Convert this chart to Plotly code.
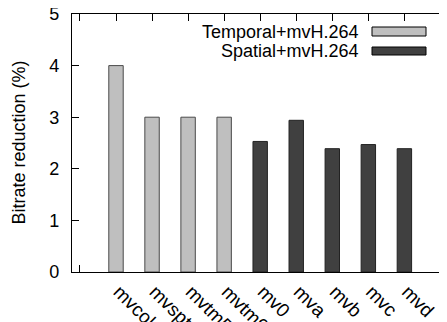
import plotly.graph_objects as go

categories = ["mvcol", "mvspt", "mvtm5", "mvtm9", "mv0", "mva", "mvb", "mvc", "mvd"]
temporal_cats = ["mvcol", "mvspt", "mvtm5", "mvtm9"]
temporal_vals = [4.0, 3.0, 3.0, 3.0]
spatial_cats = ["mv0", "mva", "mvb", "mvc", "mvd"]
spatial_vals = [2.53, 2.94, 2.39, 2.47, 2.39]
series_names = ["Temporal+mvH.264", "Spatial+mvH.264"]
y_ticks = [0, 1, 2, 3, 4, 5]

FONT = "Liberation Sans, Arial, sans-serif"
FS = 18
LIGHT = "#bfbfbf"
DARK = "#404040"

# the page body adds an 8px margin, so the figure is sized to fill the rest of the window
OFF = 8
W, H = 447 - OFF, 322 - OFF
ML, MR, MT, MB = 72 - OFF, 0, 14 - OFF, 50
PW, PH = W - ML - MR, H - MT - MB

def px(x):  # reference-pixel x -> paper
    return (x - OFF - ML) / PW

def py(y):  # reference-pixel y -> paper
    return (H - MB - (y - OFF)) / PH

xrange = [-1.2205, 9.182]
frame_ticks = list(range(-1, len(categories) + 1))

fig = go.Figure()
fig.add_trace(go.Bar(x=temporal_cats, y=temporal_vals, width=0.4, name=series_names[0],
                     marker=dict(color=LIGHT, line=dict(color="#4a4a4a", width=1)),
                     showlegend=False))
fig.add_trace(go.Bar(x=spatial_cats, y=spatial_vals, width=0.4, name=series_names[1],
                     marker=dict(color=DARK, line=dict(color="#222222", width=1)),
                     showlegend=False))
# transparent helper traces that activate the overlay axes used for the gnuplot-style frame
for ax in ("x2", "x3"):
    fig.add_trace(go.Scatter(x=[frame_ticks[0]], y=[0], xaxis=ax, yaxis="y", mode="markers",
                             marker=dict(opacity=0, size=1), showlegend=False, hoverinfo="skip"))

fig.update_layout(
    width=W, height=H,
    margin=dict(l=ML, r=MR, t=MT, b=MB, autoexpand=False),
    paper_bgcolor="white", plot_bgcolor="white",
    font=dict(family=FONT, size=FS, color="black"),
    barmode="overlay",
    xaxis=dict(type="category", categoryorder="array", categoryarray=categories,
               range=xrange, showline=True, linecolor="black", linewidth=1.3,
               ticks="", showgrid=False, zeroline=False, automargin=False,
               tickangle=45, tickfont=dict(size=19), ticklabelstandoff=0,
               ticklabelshift=3, ticklabeloverflow="allow"),
    xaxis2=dict(overlaying="x", anchor="y", side="top", range=xrange, tickmode="array",
                tickvals=frame_ticks, showticklabels=False, automargin=False,
                ticks="inside", ticklen=7, tickwidth=1.3, tickcolor="black",
                showline=True, linecolor="black", linewidth=1.3,
                showgrid=False, zeroline=False),
    xaxis3=dict(overlaying="x", anchor="y", side="bottom", range=xrange, tickmode="array",
                tickvals=[frame_ticks[0], frame_ticks[-1]], showticklabels=False,
                automargin=False, ticks="inside", ticklen=7, tickwidth=1.3,
                tickcolor="black", showline=False, showgrid=False, zeroline=False),
    yaxis=dict(range=[0, 5], tickvals=y_ticks, ticks="inside", ticklen=7, tickwidth=1.3,
               tickcolor="black", showline=True, linecolor="black", linewidth=1.3,
               mirror="ticks", showgrid=False, zeroline=False, ticklabelstandoff=8,
               ticklabeloverflow="allow", automargin=False, tickfont=dict(size=FS)),
)

# y-axis title
fig.add_annotation(text="Bitrate reduction (%)", xref="paper", yref="paper",
                   x=px(18.5), y=0.5, textangle=-90, showarrow=False,
                   xanchor="center", yanchor="middle", font=dict(size=FS))

# gnuplot-style legend: label on the left, wide key box on the right
legend_rows = [(series_names[0], LIGHT, 27, 36, 31.5), (series_names[1], DARK, 47, 55, 51)]
for name, col, y0, y1, yc in legend_rows:
    fig.add_shape(type="rect", xref="paper", yref="paper",
                  x0=px(372), x1=px(426), y0=py(y1), y1=py(y0),
                  fillcolor=col, line=dict(color="black", width=1))
    fig.add_annotation(text=name, xref="paper", yref="paper", x=px(361), y=py(yc),
                       xanchor="right", yanchor="middle", showarrow=False,
                       font=dict(size=FS))

fig.write_html("out.html")
